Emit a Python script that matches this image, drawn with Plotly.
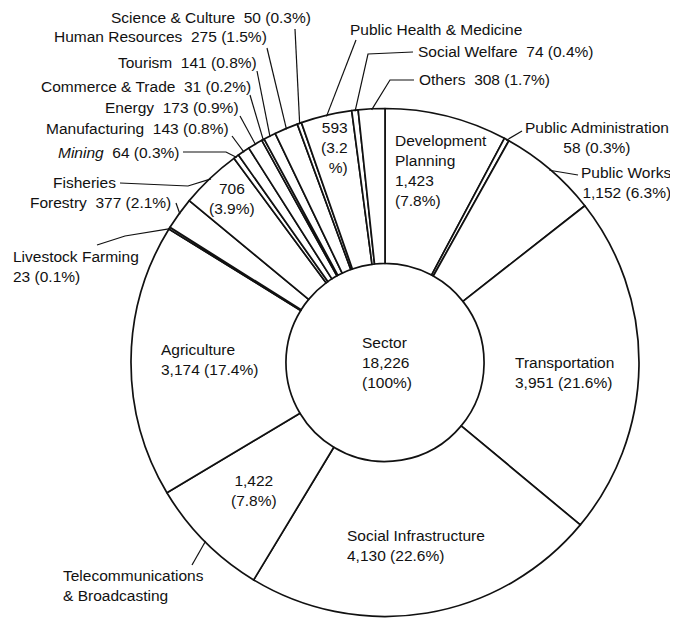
import math
import plotly.graph_objects as go

# ---------------- data ----------------
sectors = ["Development Planning", "Public Administration", "Public Works", "Transportation",
           "Social Infrastructure", "Telecommunications & Broadcasting", "Agriculture",
           "Livestock Farming", "Forestry", "Fisheries", "Mining", "Manufacturing", "Energy",
           "Commerce & Trade", "Tourism", "Human Resources", "Science & Culture",
           "Public Health & Medicine", "Social Welfare", "Others"]
amounts = [1423, 58, 1152, 3951, 4130, 1422, 3174, 23, 377, 706, 64, 143, 173, 31, 141,
           275, 50, 593, 74, 308]
percents = ["7.8%", "0.3%", "6.3%", "21.6%", "22.6%", "7.8%", "17.4%", "0.1%", "2.1%", "3.9%",
            "0.3%", "0.8%", "0.9%", "0.2%", "0.8%", "1.5%", "0.3%", "3.2%", "0.4%", "1.7%"]
total_label = "18,226"

W, H = 678, 622
OFF = 8                               # page body margin
CX, CY, R = 385, 362.5, 254           # pie centre / radius in page pixels
HOLE = 0.39
FONT = dict(family="Liberation Sans, Arial, sans-serif", size=15.5, color="#111")


def px(x, y):
    return (x - OFF) / W, 1 - (y - OFF) / H


tot = sum(amounts)
cum, mids = 0, {}
for s, v in zip(sectors, amounts):
    mids[s] = (cum + v / 2) / tot * 2 * math.pi
    cum += v


def edge(s, r=R):
    a = mids[s]
    return CX + r * math.sin(a), CY - r * math.cos(a)


x0, y1 = px(CX - R, CY - R)
x1, y0 = px(CX + R, CY + R)
fig = go.Figure(go.Pie(
    labels=sectors, values=amounts, sort=False, direction="clockwise", rotation=0,
    hole=HOLE, textinfo="none", hoverinfo="label+value",
    marker=dict(colors=["white"] * len(sectors), line=dict(color="#111", width=1.7)),
    domain=dict(x=[x0, x1], y=[y0, y1]),
    showlegend=False,
))


def lab(i):
    return f"{sectors[i]}  {amounts[i]:,} ({percents[i]})"


ann = []


def add(text, x, y, xanchor="left", align="left", yanchor="middle"):
    X, Y = px(x, y)
    ann.append(dict(text=text, x=X, y=Y, xref="paper", yref="paper", showarrow=False,
                    xanchor=xanchor, yanchor=yanchor, align=align, font=FONT))


# outside labels (upper left)
add(lab(16), 313, 18, "right")
add(lab(15), 269, 37, "right")
add(lab(14), 259, 62, "right")
add(lab(13), 253, 87, "right")
add(lab(12), 241, 108, "right")
add(lab(11), 231, 129, "right")
add(f"<i>{sectors[10]}</i>  {amounts[10]} ({percents[10]})", 181, 152, "right")
add(sectors[9], 118, 182, "right")
add(lab(8), 173, 203, "right")
add(f"{sectors[7]}<br>{amounts[7]} ({percents[7]})", 11, 267)
# outside labels (upper right)
add(sectors[17], 348, 30)
add(lab(18), 416, 52)
add(lab(19), 417, 80)
add(f"{sectors[1]}<br>{amounts[1]} ({percents[1]})", 597, 137, "center", "center")
add(f"{sectors[2]}<br>{amounts[2]:,} ({percents[2]})", 673, 182, "right", "right")
add("Telecommunications<br>&amp; Broadcasting", 61, 585)
# inside labels
add(f"Development<br>Planning<br>{amounts[0]:,}<br>({percents[0]})", 393, 171)
add(f"{sectors[3]}<br>{amounts[3]:,} ({percents[3]})", 513, 372)
add(f"Sector<br>{total_label}<br>(100%)", 360, 362)
add(f"{sectors[6]}<br>{amounts[6]:,} ({percents[6]})", 159, 359)
add(f"{amounts[5]:,}<br>({percents[5]})", 254, 490, "center", "center")
add(f"{sectors[4]}<br>{amounts[4]:,} ({percents[4]})", 345, 545)
add(f"{amounts[9]}<br>({percents[9]})", 232, 198, "center", "center")
add(f"{amounts[17]}<br>({percents[17][:3]}<br>%)", 350, 147, "right", "right")

# leader lines: label side points -> slice outer edge (computed from data)
leaders = {
    "Science & Culture": [(295, 29)],
    "Human Resources": [(267, 48)],
    "Tourism": [(257, 71)],
    "Commerce & Trade": [(250, 95)],
    "Energy": [(240, 116)],
    "Manufacturing": [(232, 136)],
    "Mining": [(183, 152), (226, 152)],
    "Fisheries": [(120, 183), (188, 186)],
    "Forestry": [(176, 203)],
    "Livestock Farming": [(97, 245), (125, 236)],
    "Public Health & Medicine": [(356, 40)],
    "Social Welfare": [(413, 52), (368, 54)],
    "Others": [(414, 80), (390, 80)],
    "Public Administration": [(522, 131)],
    "Public Works": [(578, 175)],
    "Telecommunications & Broadcasting": [(192, 565)],
}
shapes = []
for s, pts in leaders.items():
    allp = pts + [edge(s, R - 1)]
    d = "M " + " L ".join(f"{px(x, y)[0]:.5f},{px(x, y)[1]:.5f}" for x, y in allp)
    shapes.append(dict(type="path", path=d, xref="paper", yref="paper",
                       line=dict(color="#111", width=1.2)))

fig.update_layout(
    width=W, height=H, margin=dict(l=0, r=0, t=0, b=0),
    paper_bgcolor="white", plot_bgcolor="white",
    annotations=ann, shapes=shapes,
)
fig.write_html("out.html")
